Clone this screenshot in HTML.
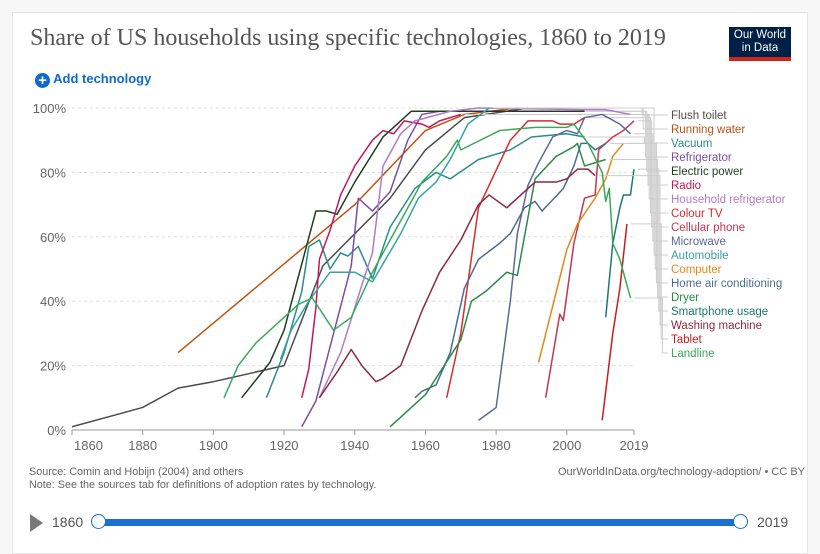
<!DOCTYPE html>
<html><head><meta charset="utf-8"><style>
html,body{margin:0;background:#f7f7f7;width:820px;height:537px;overflow:hidden;font-family:"Liberation Sans",sans-serif}
#card{position:absolute;left:12px;top:12px;width:794px;height:540px;background:#fff;border:1px solid #e6e6e6}
</style></head><body>
<div id="card"></div>
<div style="position:absolute;left:30px;top:25px;font-family:'Liberation Serif',serif;font-size:24px;color:#555">Share of US households using specific technologies, 1860 to 2019</div>
<div style="position:absolute;left:729px;top:27px;width:62px;height:34px;background:#002147;color:#fff;font-size:11.5px;line-height:13px;text-align:center;padding-top:2px;box-sizing:border-box;border-bottom:4px solid #ce261e">Our World<br>in Data</div>
<div style="position:absolute;left:35px;top:71px;font-size:13px;font-weight:bold;color:#0f6acb"><span style="display:inline-block;width:15px;height:15px;border-radius:50%;background:#0f6acb;color:#fff;text-align:center;line-height:15px;font-size:15px;vertical-align:-2px">+</span> Add technology</div>
<svg id="chart" width="820" height="537" style="position:absolute;left:0;top:0"></svg>
<div style="position:absolute;left:29px;top:466px;font-size:10.8px;color:#666;line-height:13px">Source: Comin and Hobijn (2004) and others<br>Note: See the sources tab for definitions of adoption rates by technology.</div>
<div style="position:absolute;right:15px;top:466px;font-size:11px;color:#666">OurWorldInData.org/technology-adoption/ • CC BY</div>
<div style="position:absolute;left:30px;top:514px;width:0;height:0;border-left:13px solid #777;border-top:9px solid transparent;border-bottom:9px solid transparent"></div>
<div style="position:absolute;left:52px;top:514px;font-size:14px;color:#555">1860</div>
<div style="position:absolute;left:98px;top:519px;width:643px;height:7px;background:#1a6fd0"></div>
<div style="position:absolute;left:91px;top:514px;width:13px;height:13px;border:1.5px solid #1a6fd0;border-radius:50%;background:#fff"></div>
<div style="position:absolute;left:733px;top:514px;width:13px;height:13px;border:1.5px solid #1a6fd0;border-radius:50%;background:#fff"></div>
<div style="position:absolute;left:757px;top:514px;font-size:14px;color:#555">2019</div>
<script>
const NS="http://www.w3.org/2000/svg";
const xTicks=[1860,1880,1900,1920,1940,1960,1980,2000,2019];
const yTicks=[0,20,40,60,80,100];
const names=["Flush toilet","Running water","Vacuum","Refrigerator","Electric power","Radio","Household refrigerator","Colour TV","Cellular phone","Microwave","Automobile","Computer","Home air conditioning","Dryer","Smartphone usage","Washing machine","Tablet","Landline"];
const colors=["#4d4d4d","#c15311","#2a8c8c","#7b4ea3","#1f3d1f","#c2185b","#b07cc6","#d62d2d","#c4354f","#5b6a9a","#3aa2a2","#e08a1a","#4a6d93","#2b8a4a","#1c7a6a","#8b2942","#c91c1c","#3aaa5a"];
const flushToilet=[[1860,1],[1880,7],[1890,13],[1900,15],[1920,20],[1931,51],[1950,72],[1960,87],[1971,97],[1989,100]];
const runningWater=[[1890,24],[1940,70],[1960,93],[1971,98],[1986,100]];
const vacuum=[[1915,10],[1920,24],[1925,43],[1927,57],[1930,59],[1933,50],[1936,55],[1938,54],[1941,57],[1945,47],[1950,63],[1957,75],[1963,80],[1967,78],[1975,84],[1984,87],[1990,91],[2000,92],[2005,91]];
const refrigerator=[[1925,1],[1929,9],[1934,30],[1939,51],[1941,72],[1945,68],[1950,74],[1955,90],[1959,98],[1964,99]];
const electricPower=[[1908,10],[1916,21],[1920,31],[1929,68],[1932,68],[1935,67],[1940,77],[1948,91],[1956,99],[2005,99]];
const radio=[[1925,10],[1927,19],[1929,38],[1930,53],[1933,62],[1936,73],[1940,82],[1945,90],[1948,93],[1951,92],[1954,96],[1959,95],[1961,94],[1964,96],[1970,98]];
const householdRefrigerator=[[1930,10],[1936,24],[1942,45],[1945,55],[1948,82],[1953,92],[1957,96],[1967,99],[1975,100],[2005,99.5],[2011,99.5],[2018,98]];
const colourTV=[[1966,10],[1970,30],[1975,69],[1981,83],[1984,90],[1989,96],[1991,96],[1996,96],[1998,95],[2002,95],[2005,97]];
const cellularPhone=[[1994,10],[1998,36],[1999,34],[2002,58],[2005,72],[2008,73],[2009,87],[2011,89],[2013,91],[2016,93],[2019,96]];
const microwave=[[1975,3],[1980,7],[1984,40],[1986,61],[1989,76],[1992,83],[1996,91],[2000,93],[2003,92],[2005,97],[2010,98],[2015,95],[2018,92]];
const automobile=[[1919,22],[1922,31],[1927,40],[1933,49],[1940,49],[1945,46],[1953,61],[1958,72],[1963,77],[1967,84],[1972,95],[1978,100]];
const computer=[[1992,21],[2000,56],[2003,64],[2008,72],[2011,78],[2013,85],[2016,89]];
const homeAirConditioning=[[1957,10],[1959,12],[1963,14],[1967,24],[1971,44],[1975,53],[1981,58],[1984,61],[1988,69],[1991,71],[1993,68],[1999,75],[2002,82],[2004,89],[2006,89],[2008,87],[2011,89]];
const dryer=[[1950,1],[1960,11],[1970,28],[1973,40],[1977,43],[1983,49],[1986,48],[1991,78],[1997,85],[2002,88],[2003,89],[2005,82],[2011,84]];
const smartphoneUsage=[[2011,35],[2013,58],[2015,69],[2016,73],[2018,73],[2019,81]];
const washingMachine=[[1930,10],[1935,18],[1939,25],[1942,20],[1946,15],[1948,16],[1953,20],[1959,37],[1964,49],[1970,59],[1975,70],[1978,73],[1983,69],[1988,74],[1991,77],[1997,77],[2000,78],[2003,81],[2006,81],[2008,79]];
const tablet=[[2010,3],[2013,30],[2015,44],[2017,64]];
const landline=[[1903,10],[1907,20],[1912,27],[1919,34],[1924,39],[1928,41],[1934,31],[1939,35],[1945,49],[1952,63],[1959,77],[1966,85],[1969,90],[1970,87],[1981,93],[1991,94],[2000,94],[2002,95],[2006,89],[2010,80],[2011,71],[2012,75],[2013,58],[2015,53],[2018,41]];
const series=[flushToilet,runningWater,vacuum,refrigerator,electricPower,radio,householdRefrigerator,colourTV,cellularPhone,microwave,automobile,computer,homeAirConditioning,dryer,smartphoneUsage,washingMachine,tablet,landline];

const X0=72,X1=634,Y0=430,Y1=108;
const x=y=>X0+(y-1860)/(2019-1860)*(X1-X0);
const yv=v=>Y0-v/100*(Y0-Y1);
const svg=document.getElementById('chart');
function mk(t,a){const e=document.createElementNS(NS,t);for(const k in a)e.setAttribute(k,a[k]);svg.appendChild(e);return e;}
yTicks.forEach(t=>{
  if(t>0){const g=mk('line',{x1:X0,x2:X1,y1:yv(t),y2:yv(t),stroke:'#ddd','stroke-dasharray':'3,3'});
  
  }
  const l=mk('text',{x:66,y:yv(t)+5,'text-anchor':'end','font-size':13,fill:'#666'});
  l.textContent=t+'%';
  
  
});
const ax=mk('line',{x1:X0,x2:X1,y1:Y0,y2:Y0,stroke:'#999'});


xTicks.forEach((t,i)=>{
  const tk=mk('line',{x1:x(t),x2:x(t),y1:Y0,y2:Y0+5,stroke:'#999'});
  
  
  const l=mk('text',{x:i==0?x(t)+2:x(t),y:Y0+20,'text-anchor':i==0?'start':'middle','font-size':13,fill:'#666'});
  l.textContent=t;
  
  
});
series.forEach((s,i)=>{
  const p=mk('polyline',{points:s.map(d=>x(d[0])+','+yv(d[1])).join(' '),fill:'none',stroke:colors[i],'stroke-width':1.5,'stroke-linejoin':'round'});
  
  
  const ly=115+i*14;
  const last=s[s.length-1];
  const c=mk('polyline',{points:(x(last[0])+4)+','+yv(last[1])+' '+(642+i*1.2)+','+yv(last[1])+' '+(642+i*1.2)+','+ly+' 668,'+ly,fill:'none',stroke:'#ccc','stroke-width':1});
  
  
  const t=mk('text',{x:671,y:ly+4,'font-size':11.5,fill:colors[i]});
  t.textContent=names[i];
  
  
});
</script>
</body></html>
